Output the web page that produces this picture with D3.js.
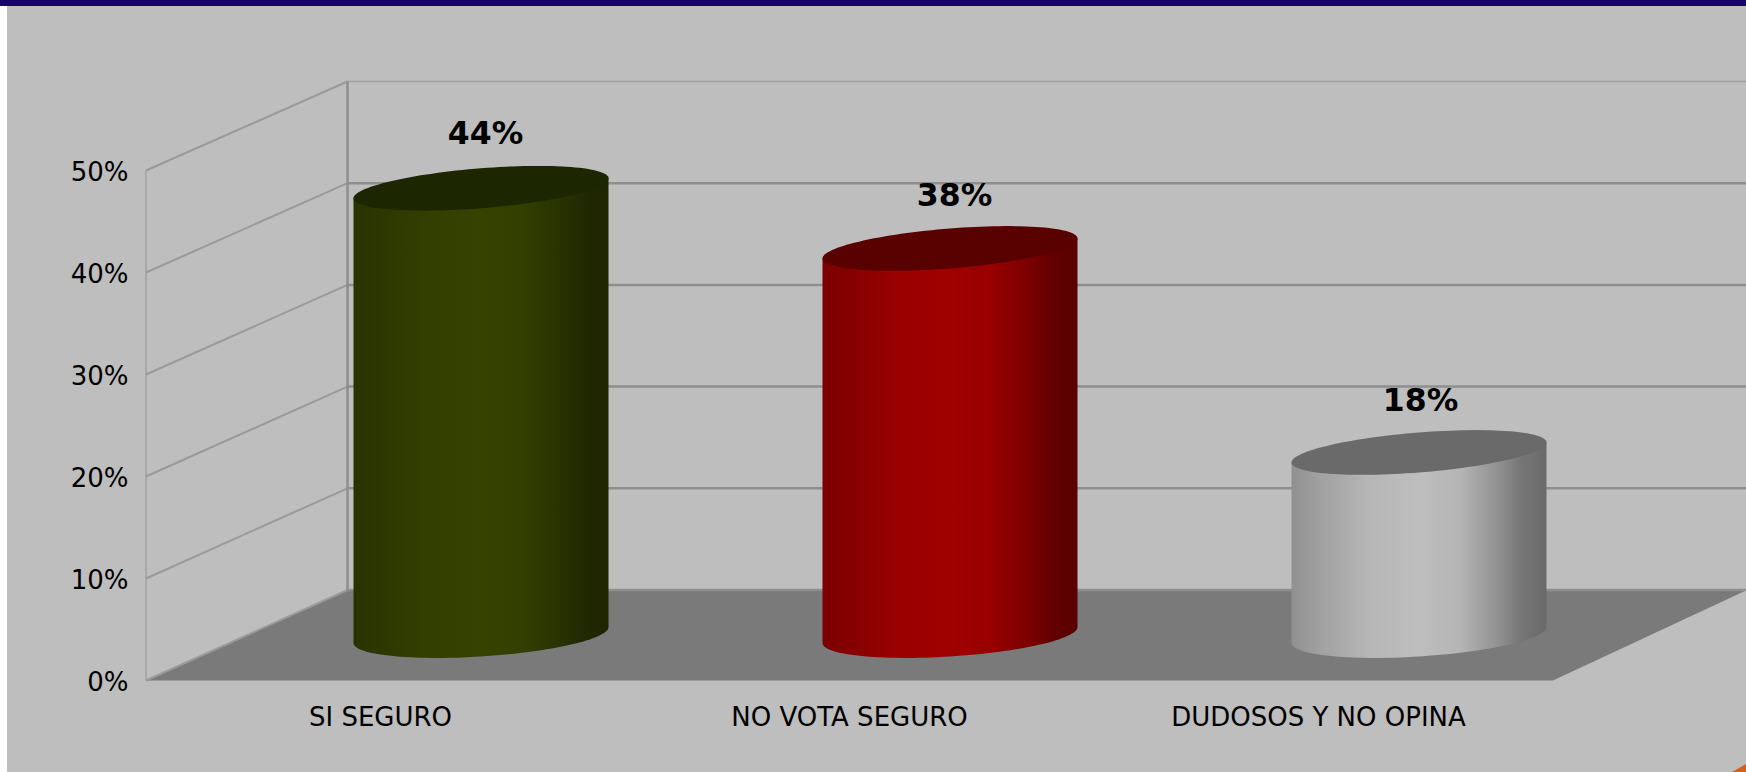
<!DOCTYPE html>
<html><head><meta charset="utf-8">
<script src="https://cdn.jsdelivr.net/npm/d3@7"></script>
<style>html,body{margin:0;padding:0;background:#fff;overflow:hidden}svg{display:block}text{font-family:"DejaVu Sans",sans-serif}</style>
</head><body><svg id="c" width="1746" height="772"></svg>
<script>
const categories = ["SI SEGURO","NO VOTA SEGURO","DUDOSOS Y NO OPINA"];
const values = [43.6,37.7,17.7];
const valueLabels = ["44%","38%","18%"];
const ticks = [0,10,20,30,40,50];
const bodyColors = ["#354200","#a00000","#bebebe"];
const topColors = ["#1c2600","#590000","#6a6a6a"];

const W=1746,H=772;
const svg=d3.select("#c");
const yFront=d3.scaleLinear().domain([0,50]).range([680.5,170.5]);
const yBack=d3.scaleLinear().domain([0,50]).range([590,81.5]);
const xCat=d3.scaleBand().domain(categories).range([146,1553]);
const X0=146,XB=347.5;

svg.append("rect").attr("width",W).attr("height",H).attr("fill","#ffffff");
svg.append("rect").attr("x",7).attr("y",0).attr("width",W-7).attr("height",H).attr("fill","#bebebe");
svg.append("rect").attr("x",0).attr("y",0).attr("width",W).attr("height",6).attr("fill","#16006b");
svg.append("path").attr("d",`M${W},764L${W},772L${W-14},772Z`).attr("fill","#d2601f");

// floor
svg.append("path").attr("d",`M${X0},${yFront(0)}L${XB},${yBack(0)}L${W},${yBack(0)}L${W},${yBack(0)+0.5}L1553,${yFront(0)}Z`).attr("fill","#7a7a7a");

// gridlines
svg.selectAll("line.back").data(ticks).join("line").attr("class","back")
 .attr("x1",XB).attr("x2",W).attr("y1",d=>yBack(d)).attr("y2",d=>yBack(d))
 .attr("stroke",d=>d===50?"#a0a0a0":"#8e8e8e").attr("stroke-width",d=>d===50?1.5:2.5);
svg.selectAll("line.side").data(ticks).join("line").attr("class","side")
 .attr("x1",X0).attr("x2",XB).attr("y1",d=>yFront(d)).attr("y2",d=>yBack(d))
 .attr("stroke","#9a9a9a").attr("stroke-width",2);
svg.append("line").attr("x1",XB).attr("x2",XB).attr("y1",yBack(50)).attr("y2",yBack(0)).attr("stroke","#8e8e8e").attr("stroke-width",2.5);
svg.append("line").attr("x1",X0).attr("x2",X0).attr("y1",yFront(50)).attr("y2",yFront(0)).attr("stroke","#9a9a9a").attr("stroke-width",1.2);

// axes labels
svg.selectAll("text.tick").data(ticks).join("text").attr("class","tick")
 .attr("x",128.5).attr("y",d=>yFront(d)+1).attr("dy","0.36em").attr("text-anchor","end")
 .attr("font-size",26).attr("fill","#000").text(d=>d+"%");
svg.selectAll("text.cat").data(categories).join("text").attr("class","cat")
 .attr("x",d=>xCat(d)+xCat.bandwidth()/2).attr("y",726)
 .attr("text-anchor","middle").attr("font-size",26).attr("fill","#000").text(d=>d);

// cylinders
const defs=svg.append("defs");
const stops=[[0,.76],[.12,.85],[.3,.96],[.5,1],[.66,.95],[.8,.78],[.9,.62],[1,.56]];
bodyColors.forEach((c,i)=>{
  const g=defs.append("linearGradient").attr("id","g"+i).attr("x1",0).attr("x2",1).attr("y1",0).attr("y2",0);
  stops.forEach(([o,k])=>{
    const b=d3.rgb(c);
    g.append("stop").attr("offset",o).attr("stop-color",d3.rgb(b.r*k,b.g*k,b.b*k).formatHex());
  });
});
const rx=127.5;
const ell=(cx,cy,t,tilt,ry)=>[cx+rx*Math.cos(t),cy+tilt*Math.cos(t)+ry*Math.sin(t)];
const line=d3.line();
const centers=[481,950,1419];
const labelLift=[44.5,42.5,41.5];
const labelShift=[4.5,4.5,1.5];
categories.forEach((cat,i)=>{
  const cx=centers[i];
  const baseY=635;
  const topY=baseY-(yFront(0)-yFront(values[i]))-2;
  const lower=d3.range(0,65).map(k=>ell(cx,baseY,Math.PI-k/64*Math.PI,-8,21.5));
  const chord=[ell(cx,topY,0,-10,20),ell(cx,topY,Math.PI,-10,20)];
  svg.append("path").attr("d",line([...lower,...chord])+"Z").attr("fill",`url(#g${i})`);
  const top=d3.range(0,129).map(k=>ell(cx,topY,k/128*2*Math.PI,-10,20));
  svg.append("path").attr("d",line(top)+"Z").attr("fill",topColors[i]);
  svg.append("text").attr("x",cx+labelShift[i]).attr("y",topY-labelLift[i]).attr("text-anchor","middle")
    .attr("font-size",31.5).attr("font-weight","bold").attr("fill","#000").text(valueLabels[i]);
});
</script></body></html>
